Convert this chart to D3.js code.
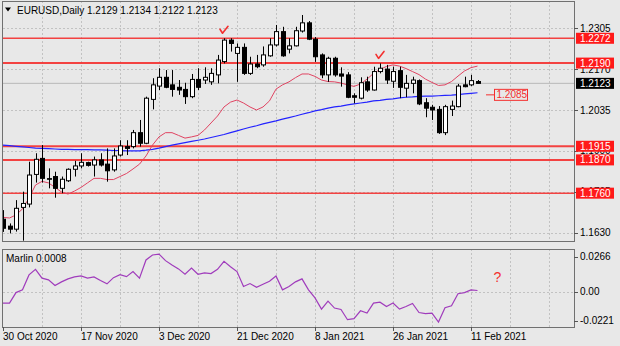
<!DOCTYPE html>
<html><head><meta charset="utf-8">
<script src="https://cdn.jsdelivr.net/npm/d3@7"></script>
<style>
html,body{margin:0;padding:0;background:#e8e8e8;}
svg{display:block;font-family:"Liberation Sans",Arial,sans-serif;}
</style></head><body>
<svg id="chart" width="620" height="346"></svg>
<script>
// EURUSD daily bars, 30 Oct 2020 – 12 Feb 2021
const dates = ["2020-10-30",
  "2020-11-02","2020-11-03","2020-11-04","2020-11-05","2020-11-06","2020-11-09","2020-11-10","2020-11-11","2020-11-12","2020-11-13",
  "2020-11-16","2020-11-17","2020-11-18","2020-11-19","2020-11-20","2020-11-23","2020-11-24","2020-11-25","2020-11-26","2020-11-27","2020-11-30",
  "2020-12-01","2020-12-02","2020-12-03","2020-12-04","2020-12-07","2020-12-08","2020-12-09","2020-12-10","2020-12-11",
  "2020-12-14","2020-12-15","2020-12-16","2020-12-17","2020-12-18","2020-12-21","2020-12-22","2020-12-23","2020-12-24",
  "2020-12-28","2020-12-29","2020-12-30","2020-12-31",
  "2021-01-04","2021-01-05","2021-01-06","2021-01-07","2021-01-08","2021-01-11","2021-01-12","2021-01-13","2021-01-14","2021-01-15",
  "2021-01-18","2021-01-19","2021-01-20","2021-01-21","2021-01-22","2021-01-25","2021-01-26","2021-01-27","2021-01-28","2021-01-29",
  "2021-02-01","2021-02-02","2021-02-03","2021-02-04","2021-02-05","2021-02-08","2021-02-09","2021-02-10","2021-02-11","2021-02-12"];

const open = [1.1674,1.1651,1.1641,1.1713,1.1724,1.1822,1.1875,1.1808,1.1815,1.1776,
  1.1801,1.1839,1.1850,1.1861,1.1853,1.1870,1.1856,1.1837,1.1886,1.1914,
  1.1914,1.1960,1.1925,1.2070,1.2114,1.2143,1.2118,1.2110,1.2103,1.2079,
  1.2136,1.2134,1.2128,1.2151,1.2195,1.2266,1.2222,1.2242,1.2156,1.2187,
  1.2184,1.2214,1.2250,1.2294,1.2236,1.2247,1.2296,1.2323,1.2269,1.2217,
  1.2151,1.2206,1.2154,1.2151,1.2082,1.2074,1.2128,1.2101,1.2162,1.2170,
  1.2130,1.2165,1.2107,1.2123,1.2132,1.2059,1.2044,1.2037,1.1960,1.2037,
  1.2046,1.2118,1.2118,1.2129];
const high = [1.1704,1.1660,1.1737,1.1765,1.1864,1.1892,1.1919,1.1842,1.1831,1.1815,
  1.1842,1.1867,1.1892,1.1864,1.1881,1.1892,1.1908,1.1908,1.1935,1.1935,
  1.1969,1.2002,1.2079,1.2140,1.2173,1.2167,1.2167,1.2134,1.2125,1.2154,
  1.2173,1.2176,1.2173,1.2217,1.2272,1.2272,1.2255,1.2255,1.2211,1.2217,
  1.2245,1.2272,1.2316,1.2310,1.2272,1.2310,1.2349,1.2329,1.2276,1.2222,
  1.2211,1.2211,1.2176,1.2160,1.2090,1.2143,1.2145,1.2178,1.2189,1.2184,
  1.2178,1.2178,1.2151,1.2145,1.2136,1.2074,1.2052,1.2048,1.2052,1.2066,
  1.2121,1.2145,1.2151,1.2134];
const low = [1.1632,1.1627,1.1633,1.1603,1.1713,1.1795,1.1795,1.1776,1.1745,1.1760,
  1.1797,1.1815,1.1842,1.1848,1.1815,1.1848,1.1798,1.1831,1.1881,1.1886,
  1.1908,1.1914,1.1922,1.2037,1.2101,1.2107,1.2079,1.2085,1.2055,1.2074,
  1.2101,1.2121,1.2118,1.2123,1.2189,1.2228,1.2128,1.2151,1.2151,1.2173,
  1.2178,1.2211,1.2245,1.2211,1.2222,1.2245,1.2291,1.2266,1.2194,1.2140,
  1.2128,1.2145,1.2112,1.2074,1.2057,1.2070,1.2095,1.2099,1.2156,1.2121,
  1.2108,1.2074,1.2077,1.2090,1.2051,1.2011,1.2002,1.1956,1.1952,1.2015,
  1.2044,1.2110,1.2114,1.2122];
const close = [1.1644,1.1641,1.1710,1.1726,1.1820,1.1872,1.1809,1.1806,1.1776,1.1806,
  1.1839,1.1850,1.1862,1.1852,1.1870,1.1853,1.1834,1.1883,1.1916,1.1908,
  1.1960,1.1925,1.2074,1.2118,1.2143,1.2110,1.2103,1.2101,1.2079,1.2136,
  1.2110,1.2143,1.2156,1.2200,1.2266,1.2255,1.2242,1.2156,1.2187,1.2178,
  1.2217,1.2250,1.2294,1.2214,1.2247,1.2297,1.2323,1.2269,1.2211,1.2151,
  1.2206,1.2151,1.2147,1.2077,1.2077,1.2125,1.2101,1.2162,1.2173,1.2134,
  1.2162,1.2110,1.2123,1.2134,1.2055,1.2041,1.2035,1.1960,1.2046,1.2048,
  1.2114,1.2112,1.2132,1.2123];

// short moving average (red) and long moving average (blue)
const fastMA = [1.1680,1.1678,1.1688,1.1708,1.1744,1.1787,1.1799,1.1794,1.1779,1.1764,
  1.1757,1.1767,1.1779,1.1794,1.1809,1.1809,1.1805,1.1805,1.1815,1.1825,
  1.1840,1.1856,1.1883,1.1919,1.1946,1.1960,1.1960,1.1951,1.1942,1.1946,
  1.1951,1.1969,1.1992,1.2015,1.2045,1.2061,1.2068,1.2058,1.2045,1.2035,
  1.2045,1.2065,1.2104,1.2118,1.2128,1.2142,1.2154,1.2154,1.2146,1.2134,
  1.2129,1.2128,1.2124,1.2118,1.2113,1.2121,1.2137,1.2156,1.2169,1.2179,
  1.2184,1.2180,1.2172,1.2162,1.2152,1.2137,1.2126,1.2116,1.2118,1.2129,
  1.2147,1.2164,1.2175,1.2180];
const slowMA = [1.1919,1.1917,1.1915,1.1913,1.1911,1.1909,1.1908,1.1907,1.1906,1.1905,
  1.1905,1.1904,1.1904,1.1904,1.1903,1.1903,1.1902,1.1901,1.1901,1.1900,
  1.1900,1.1900,1.1902,1.1905,1.1909,1.1914,1.1919,1.1923,1.1927,1.1931,
  1.1935,1.1939,1.1944,1.1949,1.1954,1.1960,1.1966,1.1972,1.1978,1.1983,
  1.1989,1.1994,1.1999,1.2005,1.2010,1.2015,1.2021,1.2026,1.2032,1.2036,
  1.2041,1.2045,1.2048,1.2052,1.2055,1.2058,1.2061,1.2065,1.2067,1.2070,
  1.2072,1.2075,1.2077,1.2078,1.2080,1.2081,1.2081,1.2082,1.2083,1.2084,
  1.2086,1.2088,1.2090,1.2092];

// Marlin oscillator
const marlin = [-0.0088,-0.0088,-0.0008,0.0013,0.0127,0.0170,0.0102,0.0089,0.0046,0.0074,
  0.0097,0.0112,0.0119,0.0102,0.0112,0.0084,0.0059,0.0106,0.0129,0.0114,
  0.0152,0.0102,0.0241,0.0279,0.0286,0.0236,0.0203,0.0173,0.0132,0.0180,
  0.0132,0.0142,0.0137,0.0170,0.0231,0.0190,0.0152,0.0038,0.0061,0.0033,
  0.0056,0.0079,0.0119,0.0013,0.0038,0.0074,0.0097,0.0013,-0.0048,-0.0134,
  -0.0073,-0.0126,-0.0137,-0.0215,-0.0207,-0.0147,-0.0164,-0.0088,-0.0081,-0.0114,
  -0.0088,-0.0134,-0.0114,-0.0091,-0.0160,-0.0169,-0.0164,-0.0233,-0.0124,-0.0109,
  -0.0017,-0.0008,0.0013,0.0008];

const levels = [1.2272, 1.2190, 1.1915, 1.1870, 1.1760];
const levelWidths = [1.5, 2, 2, 2, 1.5];
const priceTicks = [1.2305, 1.2170, 1.2035, 1.1900, 1.1765, 1.1630];
const marlinTicks = [0.0266, 0.00, -0.0221];
const marlinTickText = ["0.0266", "0.00", "-0.0221"];
const targetLevel = 1.2085;
const symbol = "EURUSD,Daily";

// ---- layout ----
const left = 3, right = 574, mainTop = 1, mainBottom = 241, subTop = 249, subBottom = 327;
const barStep = 6.5, gridEvery = 6, labelEvery = 12;
const RED = "#f4302f";

const svg = d3.select("#chart");
const parse = d3.timeParse("%Y-%m-%d");
const fmtDate = d3.timeFormat("%-d %b %Y");
const fmtP = d3.format(".4f");

const x = d3.scaleLinear().domain([0, (right - left) / barStep]).range([left, right]);
const y = d3.scaleLinear().domain([1.1630, 1.2305]).range([232.5, 28.3]);
const ym = d3.scaleLinear().domain([-0.0221, 0.0266]).range([320.5, 256.7]);

svg.append("rect").attr("width", 620).attr("height", 346).attr("fill", "#e8e8e8");

const defs = svg.append("defs");
defs.append("clipPath").attr("id", "clipMain").append("rect")
  .attr("x", left).attr("y", mainTop).attr("width", right - left).attr("height", mainBottom - mainTop);
defs.append("clipPath").attr("id", "clipSub").append("rect")
  .attr("x", left).attr("y", subTop).attr("width", right - left).attr("height", subBottom - subTop);

const main = svg.append("g").attr("clip-path", "url(#clipMain)");
const sub = svg.append("g").attr("clip-path", "url(#clipSub)");

// grid
const gridIdx = d3.range(gridEvery, (right - left) / barStep, gridEvery);
const gridStyle = sel => sel.attr("stroke", "#c2c2c2").attr("stroke-width", 1).attr("stroke-dasharray", "2,2");
[[main, mainTop, mainBottom], [sub, subTop, subBottom]].forEach(([g, t, b]) => {
  g.selectAll(null).data(gridIdx).join("line")
    .attr("x1", d => Math.round(x(d)) + 0.5).attr("x2", d => Math.round(x(d)) + 0.5)
    .attr("y1", t).attr("y2", b).call(gridStyle);
});
main.selectAll(null).data(priceTicks).join("line")
  .attr("x1", left).attr("x2", right)
  .attr("y1", d => Math.round(y(d)) + 0.5).attr("y2", d => Math.round(y(d)) + 0.5).call(gridStyle);
sub.append("line").attr("x1", left).attr("x2", right)
  .attr("y1", Math.round(ym(0)) + 0.5).attr("y2", Math.round(ym(0)) + 0.5).call(gridStyle);

// bid line
main.append("line").attr("x1", left).attr("x2", right)
  .attr("y1", y(close[close.length - 1])).attr("y2", y(close[close.length - 1]))
  .attr("stroke", "#b9b9b9").attr("stroke-width", 1);

// horizontal levels
main.selectAll(null).data(levels).join("line")
  .attr("x1", left).attr("x2", right)
  .attr("y1", d => y(d)).attr("y2", d => y(d))
  .attr("stroke", RED).attr("stroke-opacity", 0.9)
  .attr("stroke-width", (d, i) => levelWidths[i]);

// moving averages
const idx = d3.range(dates.length);
const lineOf = (arr, sc) => d3.line().x(i => x(i)).y(i => sc(arr[i]));
main.append("path").attr("d", lineOf(slowMA, y)(idx))
  .attr("fill", "none").attr("stroke", "#2323ff").attr("stroke-width", 1.2);
main.append("path").attr("d", lineOf(fastMA, y)(idx))
  .attr("fill", "none").attr("stroke", "#e04462").attr("stroke-width", 1);

// candles
const candles = main.selectAll(null).data(idx).join("g");
candles.append("line")
  .attr("x1", i => Math.round(x(i)) + 0.5).attr("x2", i => Math.round(x(i)) + 0.5)
  .attr("y1", i => y(high[i])).attr("y2", i => y(low[i]))
  .attr("stroke", "#000").attr("stroke-width", 1);
candles.append("rect")
  .attr("x", i => Math.round(x(i)) - 1.5)
  .attr("width", 4)
  .attr("y", i => y(Math.max(open[i], close[i])))
  .attr("height", i => Math.max(0.6, Math.abs(y(open[i]) - y(close[i]))))
  .attr("fill", i => close[i] >= open[i] ? "#fff" : "#000")
  .attr("stroke", "#000").attr("stroke-width", 1);

// oscillator
sub.append("path").attr("d", lineOf(marlin, ym)(idx))
  .attr("fill", "none").attr("stroke", "#a03cbc").attr("stroke-width", 1.2);

// panel borders
[[mainTop, mainBottom], [subTop, subBottom]].forEach(([t, b]) => {
  svg.append("rect").attr("x", left - 0.5).attr("y", t + 0.5)
    .attr("width", right - left + 1).attr("height", b - t)
    .attr("fill", "none").attr("stroke", "#707070").attr("stroke-width", 1);
});

// price axis
const axisText = sel => sel.attr("font-size", 10).attr("fill", "#000");
svg.selectAll(null).data(priceTicks).join("line")
  .attr("x1", right).attr("x2", right + 4)
  .attr("y1", d => Math.round(y(d)) + 0.5).attr("y2", d => Math.round(y(d)) + 0.5)
  .attr("stroke", "#555");
svg.selectAll(null).data(priceTicks).join("text")
  .attr("x", right + 6).attr("y", d => y(d)).attr("dy", "0.36em")
  .text(d => fmtP(d)).call(axisText);

// level tags on the price axis
const tag = (v, fill) => {
  svg.append("rect").attr("x", right + 2).attr("y", y(v) - 5.5).attr("width", 38).attr("height", 11).attr("fill", fill);
  svg.append("text").attr("x", right + 6).attr("y", y(v)).attr("dy", "0.36em")
    .attr("font-size", 10).attr("fill", "#fff").text(fmtP(v));
};
levels.forEach(v => tag(v, "#ff1a1a"));
tag(close[close.length - 1], "#000");

// target label
const tx = x(dates.length - 1) + 8.5;
svg.append("line").attr("x1", tx).attr("x2", tx + 8).attr("y1", y(targetLevel)).attr("y2", y(targetLevel))
  .attr("stroke", RED).attr("stroke-width", 1);
svg.append("rect").attr("x", tx + 8.5).attr("y", y(targetLevel) - 5.5).attr("width", 33).attr("height", 11)
  .attr("fill", "none").attr("stroke", RED).attr("stroke-width", 1);
svg.append("text").attr("x", tx + 10.5).attr("y", y(targetLevel)).attr("dy", "0.36em")
  .attr("font-size", 10).attr("fill", RED).text(fmtP(targetLevel));

// oscillator axis
svg.selectAll(null).data(marlinTicks).join("line")
  .attr("x1", right).attr("x2", right + 4)
  .attr("y1", d => Math.round(ym(d)) + 0.5).attr("y2", d => Math.round(ym(d)) + 0.5)
  .attr("stroke", "#555");
svg.selectAll(null).data(marlinTicks).join("text")
  .attr("x", right + 6).attr("y", d => ym(d)).attr("dy", "0.36em")
  .text((d, i) => marlinTickText[i]).call(axisText);

// time axis
const labelIdx = idx.filter(i => i % labelEvery === 0);
svg.selectAll(null).data(labelIdx).join("line")
  .attr("x1", i => Math.round(x(i)) + 0.5).attr("x2", i => Math.round(x(i)) + 0.5)
  .attr("y1", subBottom).attr("y2", subBottom + 4).attr("stroke", "#555");
svg.selectAll(null).data(labelIdx).join("text")
  .attr("x", i => x(i)).attr("y", 340)
  .text(i => fmtDate(parse(dates[i]))).call(axisText);

// header
svg.append("path").attr("d", "M5,7.5L11,7.5L8,11.5Z").attr("fill", "#000");
svg.append("text").attr("x", 17).attr("y", 14).call(axisText)
  .text(`${symbol} ${[open, high, low, close].map(a => fmtP(a[a.length - 1])).join(" ")}`);
svg.append("text").attr("x", 6).attr("y", 262).call(axisText)
  .text(`Marlin ${fmtP(marlin[marlin.length - 1])}`);

// annotations: tops touching resistance, open question on the oscillator
const tick = (i, v) => {
  const cx = x(i), cy = y(v) - 7;
  svg.append("path").attr("d", `M${cx - 4},${cy - 2}L${cx - 1.5},${cy + 2}L${cx + 4},${cy - 5}`)
    .attr("fill", "none").attr("stroke", RED).attr("stroke-width", 1.6)
    .attr("stroke-linecap", "round").attr("stroke-linejoin", "round");
};
tick(34, high[34]);
tick(58, high[58]);
svg.append("text").attr("x", x(dates.length - 1) + 20).attr("y", 282)
  .attr("font-size", 14).attr("fill", RED).attr("text-anchor", "middle").text("?");
</script>
</body></html>
